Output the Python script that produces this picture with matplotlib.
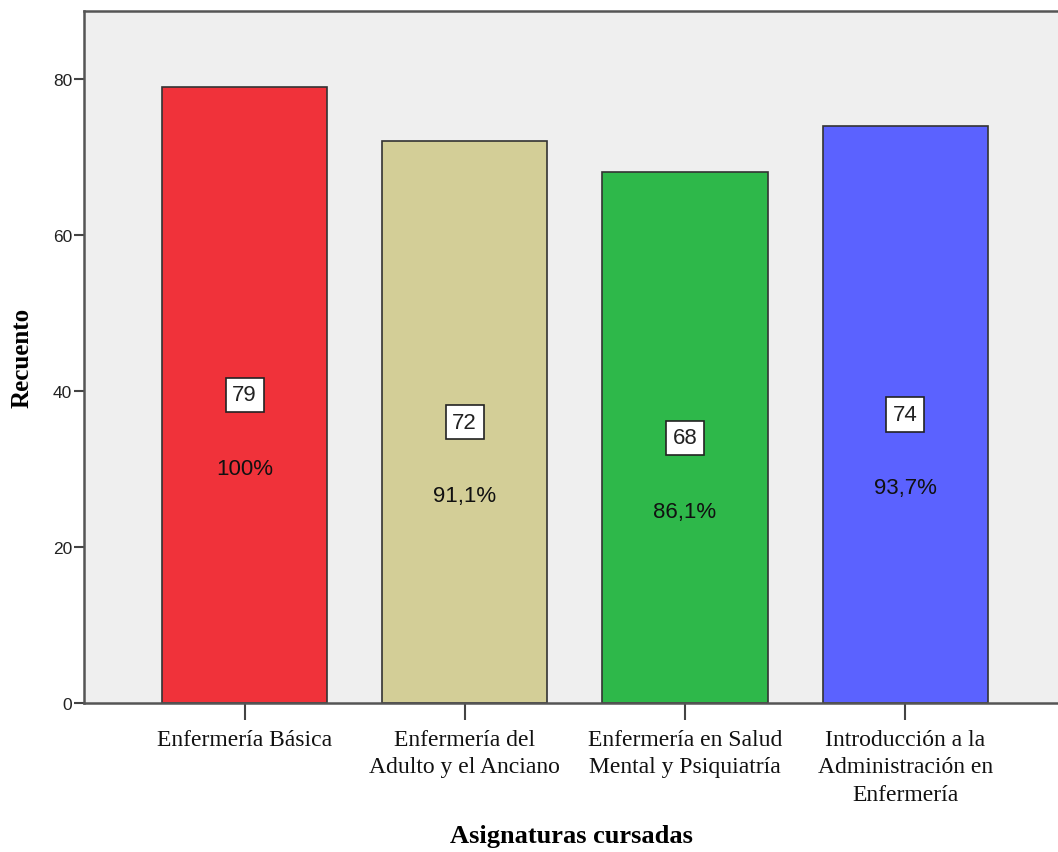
import numpy as np
import matplotlib
matplotlib.use('Agg')
import matplotlib.pyplot as plt

categorias = ['Enfermería Básica', 'Enfermería del\nAdulto y el Anciano',
              'Enfermería en Salud\nMental y Psiquiatría',
              'Introducción a la\nAdministración en\nEnfermería']
recuento = [79, 72, 68, 74]
porcentaje = ['100%', '91,1%', '86,1%', '93,7%']
colores = ['#F0323A', '#D3CE97', '#2EB84A', '#5B62FF']

fig = plt.figure(figsize=(10.58, 8.53), dpi=100)
ax = fig.add_axes([84 / 1058, (853 - 704) / 853, 974 / 1058, (704 - 12) / 853])
ax.set_facecolor('#EFEFEF')

x = np.arange(len(categorias))
ax.bar(x, recuento, width=0.75, color=colores, edgecolor='#333333', linewidth=1.2)

for xi, v, p in zip(x, recuento, porcentaje):
    ax.text(xi, v / 2, str(v), ha='center', va='center', fontsize=16,
            family='Liberation Sans', color='#222222',
            bbox=dict(boxstyle='square,pad=0.3', facecolor='white', edgecolor='#222222', linewidth=1.2))
    ax.annotate(p, (xi, v / 2), xytext=(0, -53), textcoords='offset points',
                ha='center', va='center', fontsize=16, family='Liberation Sans', color='#111111')

ax.set_xlim(-0.729, 3.694)
ax.set_ylim(0, 88.7)
ax.set_yticks([0, 20, 40, 60, 80])
ax.set_xticks(x)
ax.set_xticklabels(categorias, family='Liberation Serif', fontsize=17, linespacing=1.38)
ax.tick_params(axis='y', labelsize=12.5, length=7, width=1.5, colors='#444444', labelcolor='#222222', pad=1.5)
ax.tick_params(axis='x', length=12, width=1.5, colors='#444444', labelcolor='#111111', pad=7)
for lbl in ax.get_yticklabels():
    lbl.set_family('Liberation Sans')

for s in ['left', 'bottom', 'top']:
    ax.spines[s].set_color('#555555')
    ax.spines[s].set_linewidth(1.8)
ax.spines['right'].set_visible(False)

ax.set_xlabel('Asignaturas cursadas', family='Liberation Serif', fontsize=19, fontweight='bold', labelpad=14)
ax.set_ylabel('Recuento', family='Liberation Serif', fontsize=18, fontweight='bold', labelpad=14)

fig.savefig('out.png', dpi=100, facecolor='white')
